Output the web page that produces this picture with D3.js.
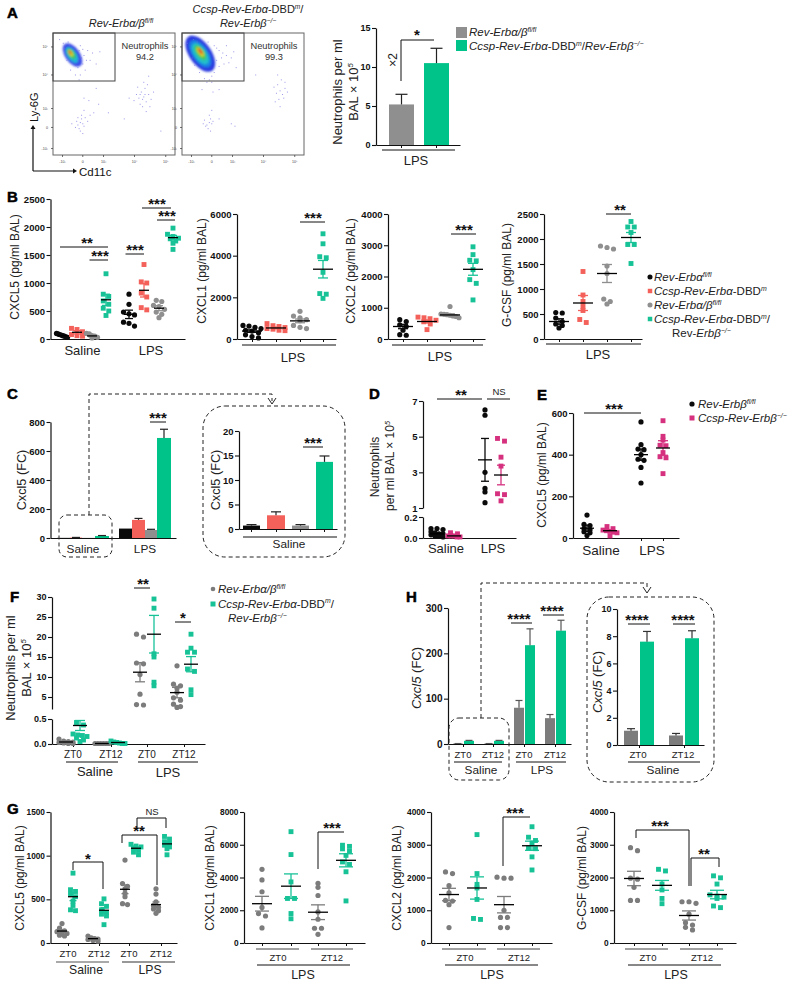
<!DOCTYPE html>
<html><head><meta charset="utf-8">
<script src="https://cdn.jsdelivr.net/npm/d3@7"></script>
<style>html,body{margin:0;padding:0;background:#fff}svg{display:block}text{font-family:"Liberation Sans",Arial,sans-serif;fill:#222}</style>
</head><body><div id="chart"></div>
<script>
// ---------- colours
const BLACK="#0a0a0a", RED="#f4605a", GRAY="#8f8f8f", GREEN="#00c389", SGREEN="#17c297", PINK="#d5317f", DGRAY="#7c7c7c";

// ---------- panel A
const aValues=[5.2,10.5], aTops=[6.5,12.4];
const aTicks=[0,5,10,15];
const flow1Sparse=[[22,27],[20,25],[23,30],[21,22],[24,26],[19,28],[25,24],[22,20],[26,31],[18,23],[23,33],[28,28],[20,31],[24,18],[15,26],[30,33],[33,35],[25,37],[29,45],[74,48],[72,52],[76,44],[70,47],[78,50],[73,40],[75,55],[68,50],[80,46],[77,58],[71,42],[74,60],[79,40],[66,45],[76,36],[82,52],[69,56],[73,46],[78,65],[62,47],[75,50],[71,50],[35,55],[25,47],[37,42],[45,35],[58,30],[88,20],[5,95],[8,92],[10,90],[28,86],[32,84],[38,85],[26,70],[22,66],[21,62],[24,75],[30,78],[11,78],[14,70],[18,66],[20,72],[25,82],[22,90],[12,93],[35,75],[27,78],[24,87],[20,78],[23,80],[18,74],[13,90],[9,88],[21,86]];
const flow2Sparse=[[22,27],[20,25],[23,30],[21,22],[24,26],[19,24],[25,28],[17,26],[23,20],[18,29],[22,33],[40,26],[43,24],[30,30],[24,37],[25,52],[30,54],[16,54],[80,53],[78,58],[82,50],[79,46],[84,55],[77,51],[81,62],[83,47],[76,44],[80,40],[84,60],[78,66],[86,52],[75,56],[6,97],[9,95],[12,93],[4,92],[28,88],[33,84],[36,82],[40,80],[30,73],[26,68],[22,62],[20,60],[24,65],[28,78],[34,75],[42,85],[8,80],[10,74],[14,68],[18,63],[44,72],[60,66],[36,90],[32,80],[30,86],[26,90],[21,93],[38,76],[24,60]];
const flow1Levels=[[16,82,11,6,"#3a4be8"],[15.5,82,7.5,3.8,"#1cb6d4"],[15,83,5,2.6,"#3cc45c"],[14.5,83.5,3,1.5,"#d9d52c"],[14,84,1.7,.8,"#e4422a"]];
const flow2Levels=[[15,83,17,9,"#2a3ae0"],[15,83,13,6.5,"#1c7fe4"],[15,83,10,5,"#20bfc8"],[15,84,7,3.2,"#45c850"],[15,84.5,4.5,2,"#dfcf2a"],[15,85,2.8,1,"#e2452a"]];
const flowXTicks=[7.4,24,41,66.4,92], flowXLabels=["-10³","0","10³","10⁴","10⁵"];
const flowYTicks=[5.7,23,38.5,66,89], flowYLabels=["-10³","0","10³","10⁴","10⁵"];

// ---------- panel B
const b1Values=[[30,40,50,60,70,80,90,100],[50,60,80,130,190,170],[20,30,50,60,90,100],[1165,800,760,680,620,550,500,420],[800,620,480,450,430,300,280,230],[1330,1020,1000,820,750,560,520],[690,670,600,580,530,480,440,380],[1980,1870,1830,1800,1790,1750,1710,1600]];
const b1Means=[60,120,55,700,440,870,550,1810], b1Sems=[10,30,15,100,75,120,45,40];
const b2Values=[[650,620,560,500,420,380,300,200,120,50],[740,640,600,550,500,470,420,400],[1330,1100,1020,930,880,650,560,500],[5050,4570,3950,3900,3200,2180,2150,1950]];
const b2Means=[380,530,870,3350], b2Sems=[60,40,90,420];
const b3Values=[[620,560,450,400,280,140,120],[700,680,650,600,550,480,300],[1040,800,790,780,760,740,720,680],[2950,2700,2520,2500,2220,1900,1780,1250]];
const b3Means=[400,560,770,2230], b3Sems=[70,50,30,190];
const b4Values=[[530,520,420,350,300,270,220],[1350,880,750,650,570,390,330],[1860,1830,1800,1460,1310,800,750,700],[2350,2240,2240,2130,1890,1890,1510]];
const b4Means=[350,720,1310,2030], b4Sems=[55,150,180,100];

// ---------- panel C
const cValues=[1,3,1,14,65,125,55,690], cTops=[1,4,1,17,65,135,60,750];
const cInsetValues=[0.7,2.8,0.7,13.7], cInsetTops=[0.9,3.5,0.9,14.9];

// ---------- panel D / E
const dValues=[[.09,.09,.08,.06,.05,.04,.04,.03,.02,.02,.01],[.05,.04,.02,.02,.02,.01,.01],[6.5,6.2,3.0,2.1,1.9,1.3],[4.9,4.75,3.85,3.35,1.8,1.75,1.4]];
const dMeans=[.04,.02,3.7,2.85], dSems=[.01,.005,1.2,.55];
const eValues=[[110,65,60,45,40,30,25,12],[55,45,38,35,32,28,25,10],[557,448,427,424,400,378,373,339,264],[563,488,470,445,443,410,390,385,309]];
const eMeans=[47,35,400,432], eSems=[15,5,27,35];

// ---------- panel F
const fValues=[[.1,.06,.05,.04,.03,.02,.01,.01],[.43,.38,.2,.18,.17,.15,.12,.08,.05],[.01,.01,.01,.01,.01,.01],[.06,.04,.03,.02,.01,.01],[20.7,20,13.5,13.3,10.6,5.7,3.1,3],[29.5,27.2,15.8,15,8.7,7.8],[12.8,8.2,7.8,7.2,6.2,4.8,4.2,3.2,2.6,2.4],[20.7,17.2,16.2,16.2,12,11.4,6.8,5.6]];
const fMeans=[.04,.37,.01,.03,11.2,20.7,6.1,13.2], fSems=[.01,.1,.005,.01,2.4,4.7,1.3,1.9];

// ---------- panel G
const g1Values=[[222,170,140,130,120,110,90,80],[800,610,590,560,530,480,430,380,370],[80,60,50,45,40,30,20],[505,450,420,380,350,330,310,210],[950,680,650,620,570,530,450,440],[1130,1110,1100,1090,1060,1040,1010],[620,560,470,430,410,390,370,340],[1220,1190,1160,1140,1120,1100,1080,1010]];
const g1Means=[137,530,50,375,615,1085,440,1135], g1Sems=[15,45,8,30,50,15,30,20];
const g2Values=[[4500,3850,3130,2170,1800,1650,920],[6800,5400,3730,2720,2720,1800,1480],[3650,3400,2900,1900,1450,900,900,530],[5970,5900,5750,5600,5350,4950,4800,4350,2570]];
const g2Means=[2400,3470,1880,5050], g2Sems=[450,750,450,400];
const g3Values=[[2170,2120,1750,1530,1300,1280,1170,470],[3310,2120,1790,1680,1330,750,720],[2010,1980,1980,1000,780,780,470,470],[3550,3230,3130,3050,2900,2880,2630,2230]];
const g3Means=[1480,1680,1170,2970], g3Sems=[190,340,250,140];
const g4Values=[[2910,2820,1980,1950,1700,1300,1300],[2250,2200,1800,1620,1360,1200],[1260,1260,1210,880,620,550,480,400],[2050,1990,1800,1470,1430,1400,1360,1130,1080]];
const g4Means=[1970,1760,840,1480], g4Sems=[220,150,140,130];

// ---------- panel H
const hValues=[0.8,7,0.7,7,80,218,57,250], hTops=[1,8,1,8,96,254,65,273];
const hInsetValues=[1.05,7.6,0.7,7.85], hInsetTops=[1.2,8.35,.85,8.4];

// ---------- helpers
const svg=d3.select("#chart").append("svg").attr("width",794).attr("height",993).attr("viewBox","0 0 794 993");
svg.append("rect").attr("width",794).attr("height",993).attr("fill","#fff");
const defs=svg.append("defs");
defs.append("filter").attr("id","soft").append("feGaussianBlur").attr("stdDeviation",0.9);

function rich(x,y,str,o={}){
  const size=o.size||11;
  const t=svg.append("text").attr("x",x).attr("y",y).attr("font-size",size)
    .attr("text-anchor",o.anchor||"middle").attr("font-weight",o.bold?"bold":"normal");
  if(o.fill) t.style("fill",o.fill);
  if(o.rotate) t.attr("transform",`rotate(${o.rotate} ${x} ${y})`);
  const parts=str.split(/(_[^_]*_|\^[^^]*\^)/).filter(s=>s.length);
  let pendingDy=0;
  parts.forEach(p=>{
    const sp=t.append("tspan");
    if(p[0]==="_"){sp.attr("font-style","italic").text(p.slice(1,-1));}
    else if(p[0]==="^"){sp.attr("font-size",size*0.6).attr("font-style","italic").attr("dy",-size*0.36).text(p.slice(1,-1));pendingDy=size*0.36;return;}
    else sp.text(p);
    if(pendingDy){sp.attr("dy",pendingDy);pendingDy=0;}
  });
  return t;
}
function hline(x1,x2,y,w=1,c="#111"){svg.append("line").attr("x1",x1).attr("x2",x2).attr("y1",y).attr("y2",y).attr("stroke",c).attr("stroke-width",w);}
function path(d,w=1,c="#111",dash){const p=svg.append("path").attr("d",d).attr("fill","none").attr("stroke",c).attr("stroke-width",w);if(dash)p.attr("stroke-dasharray",dash);return p;}
function stars(x,y,s){return rich(x,y+6.5,s,{size:15,bold:true,fill:"#111"});}
function sig(x1,x2,y,s,cx){hline(x1,x2,y,1);stars(cx===undefined?(x1+x2)/2:cx,y-6,s);}
function panelLabel(x,y,s){rich(x,y,s,{size:15,bold:true,anchor:"start",fill:"#000"}).attr("stroke","#000").attr("stroke-width",.5);}
function yAxis(scale,x,ticks,fmt,opts={}){
  const a=d3.axisLeft(scale).tickValues(ticks).tickSize(opts.tick||4).tickSizeOuter(0).tickFormat(fmt||d3.format("d"));
  const g=svg.append("g").attr("transform",`translate(${x},0)`).call(a);
  g.selectAll("path.domain").attr("stroke","#111").attr("stroke-width",1.2);
  g.selectAll("line").attr("stroke","#111").attr("stroke-width",1.1);
  g.selectAll("text").attr("font-size",opts.size||9.5).attr("font-weight","bold").style("font-family",'"Liberation Sans",Arial,sans-serif').style("fill","#111").attr("dx",1.5);
  return g;
}
function xAxis(x1,x2,y,ticks=[]){
  const s=d3.scaleLinear().domain([x1,x2]).range([x1,x2]);
  const g=svg.append("g").attr("transform",`translate(0,${y})`).call(d3.axisBottom(s).tickValues(ticks).tickSize(3).tickSizeOuter(0).tickFormat(""));
  g.selectAll("path.domain").attr("stroke","#111").attr("stroke-width",1.2);
  g.selectAll("line").attr("stroke","#111").attr("stroke-width",1);
}
// Prism-like arrangement: clusters of near-equal values are spread symmetrically, within a maximum half-width.
function swarm(vals,y,space,gap,maxHalf){
  const pts=vals.map(v=>({v,py:y(v)})).sort((a,b)=>a.py-b.py);
  let i=0;const out=[];
  while(i<pts.length){
    let j=i;while(j+1<pts.length&&pts[j+1].py-pts[i].py<gap)j++;
    const n=j-i+1;
    const sp=n>1?Math.min(space,2*maxHalf/(n-1)):0;
    for(let k=0;k<n;k++)out.push({py:pts[i+k].py,dx:(k-(n-1)/2)*sp});
    i=j+1;
  }
  return out;
}
function scatter(xs,y,values,means,sems,colors,shapes,o={}){
  const r=o.r||2.6, mw=o.mean||10, cw=o.cap||5;
  values.forEach((vals,i)=>{
    const sym=d3.symbol().type(shapes[i]==="c"?d3.symbolCircle:d3.symbolSquare).size(shapes[i]==="c"?Math.PI*r*r:(2*r-.3)*(2*r-.3));
    const g=svg.append("g");
    g.selectAll("path").data(swarm(vals,y,o.space||7,o.gap||3.5,o.maxHalf||8)).join("path")
      .attr("d",sym).attr("fill",colors[i]).attr("transform",d=>`translate(${xs[i]+d.dx},${d.py})`);
    const hi=y(means[i]+sems[i]), lo=y(means[i]-sems[i]), my=y(means[i]);
    const wc=o.whisker||colors[i];
    svg.append("line").attr("x1",xs[i]).attr("x2",xs[i]).attr("y1",hi).attr("y2",lo).attr("stroke",wc).attr("stroke-width",1.3);
    [hi,lo].forEach(v=>hline(xs[i]-cw,xs[i]+cw,v,1.3,wc));
    hline(xs[i]-mw,xs[i]+mw,my,1.3,"#000");
  });
}
function bars(lefts,rights,vals,tops,y,colors,y0,capw=5,errc="#222"){
  vals.forEach((v,i)=>{
    svg.append("rect").attr("x",lefts[i]).attr("width",rights[i]-lefts[i]).attr("y",y(v)).attr("height",y0-y(v)).attr("fill",colors[i]);
    if(tops[i]>v){
      const c=(lefts[i]+rights[i])/2;
      svg.append("line").attr("x1",c).attr("x2",c).attr("y1",y(v)).attr("y2",y(tops[i])).attr("stroke",errc).attr("stroke-width",1.2);
      hline(c-capw,c+capw,y(tops[i]),1.2,errc);
    }
  });
}
function dashedBox(x,y,w,h,r){svg.append("rect").attr("x",x).attr("y",y).attr("width",w).attr("height",h).attr("rx",r).attr("fill","none").attr("stroke","#222").attr("stroke-width",1).attr("stroke-dasharray","4,3");}

const B_COL=[BLACK,RED,GRAY,SGREEN], B_SH=["c","s","c","s"];
const LEG=11.5, YL=12, SAL=13;

// ---------- A : flow plots
function flow(x0,sparse,levels,title1,title2,val){
  const X=d3.scaleLinear().domain([0,100]).range([x0,x0+122]), Y=d3.scaleLinear().domain([0,100]).range([155,33]);
  const g=svg.append("g").attr("filter","url(#soft)");
  levels.forEach(l=>g.append("ellipse").attr("cx",X(l[0])).attr("cy",Y(l[1])).attr("rx",X(l[2])-X(0)).attr("ry",X(l[3])-X(0)).attr("fill",l[4]).attr("transform",`rotate(55 ${X(l[0])} ${Y(l[1])})`));
  svg.append("g").selectAll("rect").data(sparse).join("rect").attr("x",d=>X(d[0])).attr("y",d=>Y(d[1])).attr("width",1).attr("height",1).attr("fill","#6d6ce0").attr("opacity",.7);
  svg.append("rect").attr("x",x0).attr("y",33).attr("width",122).attr("height",122).attr("fill","none").attr("stroke","#666").attr("stroke-width",1);
  svg.append("rect").attr("x",x0).attr("y",33).attr("width",62).attr("height",48).attr("fill","none").attr("stroke","#444").attr("stroke-width",1);
  const ax=svg.append("g").attr("transform",`translate(${x0},0)`).call(d3.axisLeft(Y).tickValues(flowYTicks).tickSize(2).tickFormat((d,i)=>flowYLabels[i]));
  const bx=svg.append("g").attr("transform",`translate(0,155)`).call(d3.axisBottom(X).tickValues(flowXTicks).tickSize(2).tickFormat((d,i)=>flowXLabels[i]));
  [ax,bx].forEach(a=>{a.select("path.domain").remove();a.selectAll("line").attr("stroke","#333").attr("stroke-width",.7);a.selectAll("text").attr("font-size",3.6).style("fill","#444").attr("font-family","Liberation Sans");});
  rich(x0+92,49,"Neutrophils",{size:9.3,fill:"#333"});
  rich(x0+92,60,val,{size:9.3,fill:"#333"});
  if(title2){rich(x0+66,13,title1,{size:11});rich(x0+66,27,title2,{size:11});}
  else rich(x0+68,27,title1,{size:11});
}
flow(53,flow1Sparse,flow1Levels,"_Rev-Erbα/β_^fl/fl^",null,"94.2");
flow(182,flow2Sparse,flow2Levels,"_Ccsp-Rev-Erbα_-DBD^m^/","_Rev-Erbβ_^−/−^","99.3");
path("M33,171V128",1.2); path("M33,171H74",1.2);
svg.append("path").attr("d","M33,125l-2.5,4h5z").attr("fill","#111");
svg.append("path").attr("d","M77,171l-4,-2.5v5z").attr("fill","#111");
rich(38,122,"Ly-6G",{size:11,rotate:-90,anchor:"start",fill:"#111"});
rich(79,176,"Cd11c",{size:11.5,anchor:"start",fill:"#111"});
panelLabel(7,18,"A");

// ---------- A : bars
{
  const y=d3.scaleLinear().domain([0,15]).range([145,28]);
  bars([389,424],[414,449],aValues,aTops,y,[GRAY,GREEN],145,6);
  yAxis(y,376,aTicks,null,{tick:4,size:9});
  xAxis(376,460,145,[401,436]);
  hline(382,455,150,1);
  rich(416,165,"LPS",{size:SAL});
  rich(342,92,"Neutrophils per ml",{size:13,rotate:-90});
  rich(358,92,"BAL × 10^5^",{size:13,rotate:-90});
  path("M401,81V40H434",1);
  stars(417,33,"*");
  rich(397,60,"×2",{size:12,rotate:-90});
  svg.append("rect").attr("x",456).attr("y",27).attr("width",11).attr("height",11).attr("fill",GRAY);
  svg.append("rect").attr("x",456).attr("y",40).attr("width",11).attr("height",11).attr("fill",GREEN);
  rich(469,36,"_Rev-Erbα/β_^fl/fl^",{size:LEG,anchor:"start"});
  rich(469,50,"_Ccsp-Rev-Erbα_-DBD^m^/_Rev-Erbβ_^−/−^",{size:LEG,anchor:"start"});
}

// ---------- B
panelLabel(7,202,"B");
{
  const y=d3.scaleLinear().domain([0,2500]).range([339,199]);
  yAxis(y,50.5,[0,500,1000,1500,2000,2500]);
  xAxis(50.5,185,339);
  scatter([62,77,92,106,129,144,159,173],y,b1Values,b1Means,b1Sems,B_COL.concat(B_COL),B_SH.concat(B_SH),{mean:5,cap:4,space:5.5,gap:4,maxHalf:5.5});
  rich(82.5,355,"Saline",{size:SAL}); rich(151,355,"LPS",{size:SAL});
  rich(19,267,"CXCL5 (pg/ml BAL)",{size:YL,rotate:-90});
  sig(60,108,247,"**",87); sig(89.5,108,260,"***",100);
  sig(125.5,144,254,"***",135); sig(142,171,208,"***",157); sig(157,175,220,"***",167);
}
function bPanel(ax,xs,ymax,ticks,vals,means,sems,lineFrom,lineTo,lineY,lpsX,lpsY,ylab,ylabX,o){
  const y=d3.scaleLinear().domain([0,ymax]).range([339,o.top||214]);
  yAxis(y,ax,ticks);
  xAxis(ax,o.end,339,xs);
  scatter(xs,y,vals,means,sems,B_COL,B_SH,{mean:10,cap:5,space:6.5,gap:4,maxHalf:9});
  hline(lineFrom,lineTo,lineY,1);
  rich(lpsX,lpsY,"LPS",{size:SAL});
  rich(ylabX,o.labY||271,ylab,{size:YL,rotate:-90});
}
bPanel(237,[252,276,300,323],6000,[0,2000,4000,6000],b2Values,b2Means,b2Sems,242,336,345,293,362,"CXCL1 (pg/ml BAL)",206,{end:336});
sig(300,325,222,"***",313);
bPanel(388,[403,427,450,473],4000,[0,1000,2000,3000,4000],b3Values,b3Means,b3Sems,392,483,345,440,361,"CXCL2 (pg/ml BAL)",355,{end:485});
sig(451,476,234,"***",464);
bPanel(544,[559,583,607,631],2500,[0,500,1000,1500,2000,2500],b4Values,b4Means,b4Sems,546,641,344,598,359,"G-CSF (pg/ml BAL)",511,{end:642,labY:275});
sig(606,631,214,"**",620);
// B legend
const bLegendLabels=["_Rev-Erbα_^fl/fl^","_Ccsp-Rev-Erbα_-DBD^m^","_Rev-Erbα/β_^fl/fl^","_Ccsp-Rev-Erbα_-DBD^m^/"];
[277,291,305,319].forEach((yy,i)=>{
  svg.append("path").attr("d",d3.symbol().type(B_SH[i]==="c"?d3.symbolCircle:d3.symbolSquare).size(20)()).attr("fill",B_COL[i]).attr("transform",`translate(650,${yy})`);
  rich(654,yy+4,bLegendLabels[i],{size:LEG,anchor:"start"});
});
rich(672,337,"Rev-_Erbβ_^−/−^",{size:LEG,anchor:"start"});

// ---------- C
panelLabel(7,399,"C");
{
  const y=d3.scaleLinear().domain([0,800]).range([538,422]);
  bars([57,70,82,95,119,132,145,157],[70,82,95,109,132,145,157,171],cValues,cTops,y,[BLACK,RED,GRAY,GREEN,BLACK,RED,GRAY,GREEN],538,4);
  yAxis(y,50.5,[0,200,400,600,800]);
  xAxis(50.5,176,538);
  rich(83,553,"Saline",{size:11.8}); rich(145,553,"LPS",{size:11.8});
  rich(26,480,"Cxcl5 (FC)",{size:12.7,rotate:-90});
  sig(150,166,422,"***",158);
  dashedBox(59,515,53,42,8);
  path("M89,515V394H272V401",1,"#222","4,3");
  path("M268,398L272,404L276,398",1,"#222");
  dashedBox(203,406,142,151,22);
  const yi=d3.scaleLinear().domain([0,20]).range([529,431]);
  bars([243,267,292,316],[260,285,309,333],cInsetValues,cInsetTops,yi,[BLACK,RED,GRAY,GREEN],529,5);
  yAxis(yi,239,[0,5,10,15,20]);
  xAxis(239,337,529,[251,276,300,324]);
  hline(243,337,537,1);
  rich(289,548,"Saline",{size:11.8});
  rich(220,480,"Cxcl5 (FC)",{size:12.7,rotate:-90});
  sig(303,323,447,"***",313);
}

// ---------- D  (broken axis)
panelLabel(369,399,"D");
{
  const up=d3.scaleLinear().domain([1,7]).range([508,401]);
  const lo=d3.scaleLinear().domain([0,.2]).range([538,517]);
  const y=v=>v>=1?up(v):lo(v);
  yAxis(up,423,[1,3,5,7]);
  yAxis(lo,423,[0,.2],d3.format(".1f"));
  xAxis(423,516,538);
  scatter([437,454,485,501],y,dValues,dMeans,dSems,[BLACK,PINK,BLACK,PINK],["c","s","c","s"],{mean:7,cap:4,space:7,gap:3,maxHalf:6});
  rich(446,553,"Saline",{size:SAL}); rich(493,553,"LPS",{size:SAL});
  rich(379,467,"Neutrophils",{size:12,rotate:-90});
  rich(394,466,"per ml BAL × 10^5^",{size:12,rotate:-90});
  sig(437,482,399,"**",461);
  hline(487,510,399,1);
  rich(499,395,"NS",{size:9.5,fill:"#222"});
}

// ---------- E
panelLabel(537,400,"E");
{
  const y=d3.scaleLinear().domain([0,600]).range([538,413]);
  yAxis(y,573,[0,200,400,600]);
  xAxis(573,679,538,[641,663]);
  scatter([587,610,641,663],y,eValues,eMeans,eSems,[BLACK,PINK,BLACK,PINK],["c","s","c","s"],{mean:7,cap:5,space:6,gap:3,maxHalf:7});
  rich(601,555,"Saline",{size:13.5}); rich(652,555,"LPS",{size:13.5});
  rich(546,475,"CXCL5 (pg/ml BAL)",{size:YL,rotate:-90});
  sig(584,641,413,"***",614);
  svg.append("circle").attr("cx",692).attr("cy",404).attr("r",2.6).attr("fill",BLACK);
  svg.append("rect").attr("x",689.5).attr("y",415.5).attr("width",5).attr("height",5).attr("fill",PINK);
  rich(698,408,"_Rev-Erbβ_^fl/fl^",{size:LEG,anchor:"start"});
  rich(698,422,"_Ccsp-Rev-Erbβ_^−/−^",{size:LEG,anchor:"start"});
}

// ---------- F (broken axis)
panelLabel(10,602,"F");
{
  const up=d3.scaleLinear().domain([2,30]).range([709,597]);
  const lo=d3.scaleLinear().domain([0,.5]).range([744,719]);
  const y=v=>v>=2?up(v):lo(v);
  yAxis(up,52,[5,10,15,20,25,30],null,{size:9});
  yAxis(lo,52,[0,.5],d3.format(".1f"),{size:9});
  xAxis(52,205,744,[73,111,147,184]);
  scatter([66,80,102,118,140,154,177,191],y,fValues,fMeans,fSems,[DGRAY,SGREEN,DGRAY,SGREEN,DGRAY,SGREEN,DGRAY,SGREEN],["c","s","c","s","c","s","c","s"],{mean:7,cap:5,space:7,gap:3.2,maxHalf:7});
  [["ZT0",73],["ZT12",111],["ZT0",147],["ZT12",184]].forEach(d=>rich(d[1],758,d[0],{size:10}));
  hline(66,118,762,1); hline(138,198,762,1);
  rich(95,776,"Saline",{size:SAL}); rich(168,777,"LPS",{size:SAL});
  rich(15,668,"Neutrophils per ml",{size:13,rotate:-90});
  rich(31,668,"BAL × 10^5^",{size:13,rotate:-90});
  sig(134,150,588,"**",143); sig(175,191,622,"*",183);
  svg.append("circle").attr("cx",213).attr("cy",589).attr("r",2.3).attr("fill",DGRAY);
  svg.append("rect").attr("x",210.5).attr("y",601.5).attr("width",5).attr("height",5).attr("fill",SGREEN);
  rich(218,593,"_Rev-Erbα/β_^fl/fl^",{size:LEG,anchor:"start"});
  rich(218,607.5,"_Ccsp-Rev-Erbα_-DBD^m^/",{size:LEG,anchor:"start"});
  rich(228,622,"_Rev-Erbβ_^−/−^",{size:LEG,anchor:"start"});
}

// ---------- H
panelLabel(406,602,"H");
{
  const y=d3.scaleLinear().domain([0,300]).range([744,608]);
  const HC=[DGRAY,GREEN,DGRAY,GREEN,DGRAY,GREEN,DGRAY,GREEN];
  bars([453,464,484,494,514,525,545,556],[463,474,494,504,524,535,555,566],hValues,hTops,y,HC,744,3.5,"#555");
  yAxis(y,448,[0,100,200,300],null,{size:10});
  xAxis(448,571,744,[463,493,524,555]);
  [["ZT0",463],["ZT12",493],["ZT0",524],["ZT12",555]].forEach(d=>rich(d[1],758,d[0],{size:9.5}));
  hline(454,502,762,1); hline(516,566,762,1);
  rich(481,774,"Saline",{size:11.8}); rich(542,774,"LPS",{size:11.8});
  rich(421,678,"_Cxcl5_ (FC)",{size:13,rotate:-90});
  sig(511,532,623,"****",519); sig(543,564,615,"****",552);
  dashedBox(449,718,60,62,10);
  path("M481,718V583H647V590",1,"#222","4,3");
  path("M643,587L647,593L651,587",1,"#222");
  dashedBox(587,597,127,185,22);
  const yi=d3.scaleLinear().domain([0,10]).range([745,609]);
  bars([624,640,669,685],[638,654,683,699],hInsetValues,hInsetTops,yi,[DGRAY,GREEN,DGRAY,GREEN],745,4,"#333");
  yAxis(yi,617,[0,2,4,6,8,10],null,{size:9});
  xAxis(617,704,745,[639,684]);
  [["ZT0",638],["ZT12",683]].forEach(d=>rich(d[1],758,d[0],{size:9.7}));
  hline(628,700,762,1);
  rich(663,774,"Saline",{size:11.8});
  rich(602,682,"_Cxcl5_ (FC)",{size:13,rotate:-90});
  sig(628,650,624,"****",637); sig(673,695,624,"****",683);
}

// ---------- G
panelLabel(7,814,"G");
const G_COL=[DGRAY,SGREEN,DGRAY,SGREEN], G_SH=["c","s","c","s"];
{
  const y=d3.scaleLinear().domain([0,1500]).range([943,812]);
  yAxis(y,50.5,[0,500,1000,1500],null,{size:8.3});
  xAxis(50.5,177,943,[68,99,129,161]);
  scatter([62,73,93,104,125,136,156,167],y,g1Values,g1Means,g1Sems,G_COL.concat(G_COL),G_SH.concat(G_SH),{mean:5,cap:3.5,space:5,gap:3.2,maxHalf:5});
  [["ZT0",68],["ZT12",99],["ZT0",129],["ZT12",161]].forEach(d=>rich(d[1],956.5,d[0],{size:9.5}));
  hline(56,109,962,1.1,"#555"); hline(122,175,962,1.1,"#333");
  rich(86,974,"Saline",{size:12.2}); rich(150,974,"LPS",{size:12.2});
  rich(24,878,"CXCL5 (pg/ml BAL)",{size:YL,rotate:-90});
  path("M73,870V862H103V889"); stars(88,857,"*");
  path("M122,843V835H157V885"); stars(139,829,"**");
  path("M137,829V818H166V828");
  rich(152,815,"NS",{size:9.5,fill:"#222"});
}
function gPanel(ax,end,xs,ymax,ticks,vals,means,sems,l1,l2,zt0,zt12,l3,lps,ylab,ylabX){
  const y=d3.scaleLinear().domain([0,ymax]).range([943,812]);
  yAxis(y,ax,ticks,null,{size:8.3});
  xAxis(ax,end,943,xs);
  scatter(xs,y,vals,means,sems,G_COL,G_SH,{mean:10,cap:7,space:7,gap:3.5,maxHalf:8});
  hline(l1[0],l1[1],949,1.1,"#444"); hline(l2[0],l2[1],949,1.1,"#444");
  rich(zt0,961,"ZT0",{size:9.5}); rich(zt12,961,"ZT12",{size:9.5});
  hline(l3[0],l3[1],965,1);
  rich(lps,979,"LPS",{size:12.5});
  rich(ylabX,878,ylab,{size:YL,rotate:-90});
}
gPanel(244,365,[262,291,318,346],8000,[0,2000,4000,6000,8000],g2Values,g2Means,g2Sems,[256,299],[311,353],278,332,[257,350],303,"CXCL1 (pg/ml BAL)",214);
path("M318,869V832H344"); stars(332,826,"***");
gPanel(431,552,[449,477,504,532],4000,[0,1000,2000,3000,4000],g3Values,g3Means,g3Sems,[442,486],[497,540],465,519,[445,538],492,"CXCL2 (pg/ml BAL)",401);
path("M503,866V817H530"); stars(515,811,"***");
gPanel(614,736,[634,662,689,717],4000,[0,1000,2000,3000,4000],g4Values,g4Means,g4Sems,[625,668],[680,723],648,702,[628,721],676,"G-CSF (pg/ml BAL)",586);
path("M636,838V830H689V886"); stars(660,824,"***");
path("M691,886V858H719V867"); stars(704,852,"**");
</script></body></html>
